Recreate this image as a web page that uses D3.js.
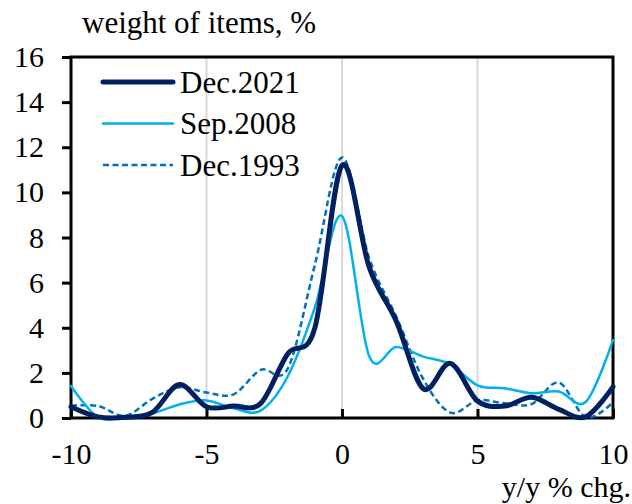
<!DOCTYPE html>
<html>
<head>
<meta charset="utf-8">
<script src="https://cdn.jsdelivr.net/npm/d3@7/dist/d3.min.js"></script>
<style>
    html, body { margin: 0; padding: 0; background: #fff; }
    #viz-weights { width: 632px; height: 504px; }
    text { font-family: "Liberation Serif", "Times New Roman", serif; fill: #000; }
</style>
</head>
<body>
<div id="viz-weights"></div>
<script>
// y/y % change buckets and weight of items (%) for each period
const changeBins = [-10, -9, -8, -7, -6, -5, -4, -3, -2, -1, 0, 1, 2, 3, 4, 5, 6, 7, 8, 9, 10];
const dec2021 = [0.5, 0.05, 0.03, 0.25, 1.48, 0.5, 0.53, 0.65, 2.85, 4.0, 11.2, 6.7, 4.3, 1.3, 2.42, 0.75, 0.53, 0.92, 0.38, 0.06, 1.38];
const sep2008 = [1.42, 0.03, 0.05, 0.2, 0.6, 0.78, 0.43, 0.33, 1.85, 4.9, 8.95, 2.75, 3.15, 2.72, 2.38, 1.45, 1.32, 1.1, 1.17, 0.72, 3.45];
const dec1993 = [0.55, 0.53, 0.1, 0.85, 1.36, 1.13, 1.05, 2.13, 2.2, 6.8, 11.55, 7.1, 4.5, 1.72, 0.24, 0.78, 0.65, 0.62, 1.57, 0.03, 0.7];

const xTicks = [-10, -5, 0, 5, 10];
const yTicks = [0, 2, 4, 6, 8, 10, 12, 14, 16];
const gridTicks = [-5, 0, 5];

const seriesList = [
    { name: 'Dec.2021', values: dec2021, color: '#002060', width: 5, dash: null },
    { name: 'Sep.2008', values: sep2008, color: '#00b0f0', width: 2.5, dash: null },
    { name: 'Dec.1993', values: dec1993, color: '#0070c0', width: 2.5, dash: '6,3.5' }
];

const fontSize = '31px';
const tickFontSize = '30px';

function createWeightsChart(container) {
    const margin = { top: 57, right: 19, bottom: 86, left: 71 };
    const width = 632 - margin.left - margin.right;
    const height = 504 - margin.top - margin.bottom;

    const svg = container.append('svg')
        .attr('width', 632)
        .attr('height', 504);

    const g = svg.append('g')
        .attr('transform', `translate(${margin.left},${margin.top})`);

    const xScale = d3.scaleLinear().domain([-10, 10]).range([0, width]);
    const yScale = d3.scaleLinear().domain([0, 16]).range([height, 0]);

    // Vertical grid
    g.append('g')
        .selectAll('line')
        .data(gridTicks)
        .enter()
        .append('line')
        .attr('x1', d => xScale(d))
        .attr('x2', d => xScale(d))
        .attr('y1', 0)
        .attr('y2', height)
        .attr('stroke', '#d9d9d9')
        .attr('stroke-width', 2);

    // Plot frame
    g.append('rect')
        .attr('width', width)
        .attr('height', height)
        .attr('fill', 'none')
        .attr('stroke', '#000')
        .attr('stroke-width', 3);

    // Axes
    const yAxis = g.append('g')
        .call(d3.axisLeft(yScale).tickValues(yTicks).tickSize(9).tickPadding(18).tickFormat(d3.format('d')));
    yAxis.select('.domain').remove();
    yAxis.selectAll('line').attr('stroke', '#000').attr('stroke-width', 3);
    yAxis.selectAll('text')
        .style('font-family', '"Liberation Serif", serif')
        .style('font-size', tickFontSize)
        .attr('fill', '#000');

    const xAxis = g.append('g')
        .attr('transform', `translate(0, ${height})`)
        .call(d3.axisBottom(xScale).tickValues(xTicks).tickSizeInner(-9).tickSizeOuter(0).tickPadding(0).tickFormat(d3.format('d')));
    xAxis.select('.domain').remove();
    xAxis.selectAll('line').attr('stroke', '#000').attr('stroke-width', 3);
    xAxis.selectAll('text')
        .attr('y', 46)
        .attr('dy', 0)
        .style('font-family', '"Liberation Serif", serif')
        .style('font-size', tickFontSize)
        .attr('fill', '#000')
        .text(d => d < 0 ? '-' + Math.abs(d) : d);

    // Lines
    const line = d3.line()
        .x((d, i) => xScale(changeBins[i]))
        .y(d => yScale(d))
        .curve(d3.curveCardinal.tension(0));

    seriesList.slice().reverse().forEach(s => {
        g.append('path')
            .datum(s.values)
            .attr('d', line)
            .attr('fill', 'none')
            .attr('stroke', s.color)
            .attr('stroke-width', s.width)
            .attr('stroke-dasharray', s.dash)
            .attr('stroke-linecap', s.dash ? 'butt' : 'round')
            .attr('stroke-linejoin', 'round');
    });

    // Legend
    const legend = svg.append('g').attr('transform', 'translate(103, 82)');
    seriesList.forEach((s, i) => {
        const row = legend.append('g').attr('transform', `translate(0, ${i * 41.5})`);
        row.append('line')
            .attr('x1', 0)
            .attr('x2', 70)
            .attr('stroke', s.color)
            .attr('stroke-width', s.width)
            .attr('stroke-dasharray', s.dash)
            .attr('stroke-linecap', s.dash ? 'butt' : 'round');
        row.append('text')
            .attr('x', 77)
            .attr('dy', '0.34em')
            .style('font-size', fontSize)
            .text(s.name);
    });

    // Axis titles
    svg.append('text')
        .attr('x', 82)
        .attr('y', 33)
        .style('font-size', fontSize)
        .text('weight of items, %');

    svg.append('text')
        .attr('x', 631)
        .attr('y', 497)
        .attr('text-anchor', 'end')
        .style('font-size', tickFontSize)
        .text('y/y % chg.');
}

createWeightsChart(d3.select('#viz-weights'));
</script>
</body>
</html>
